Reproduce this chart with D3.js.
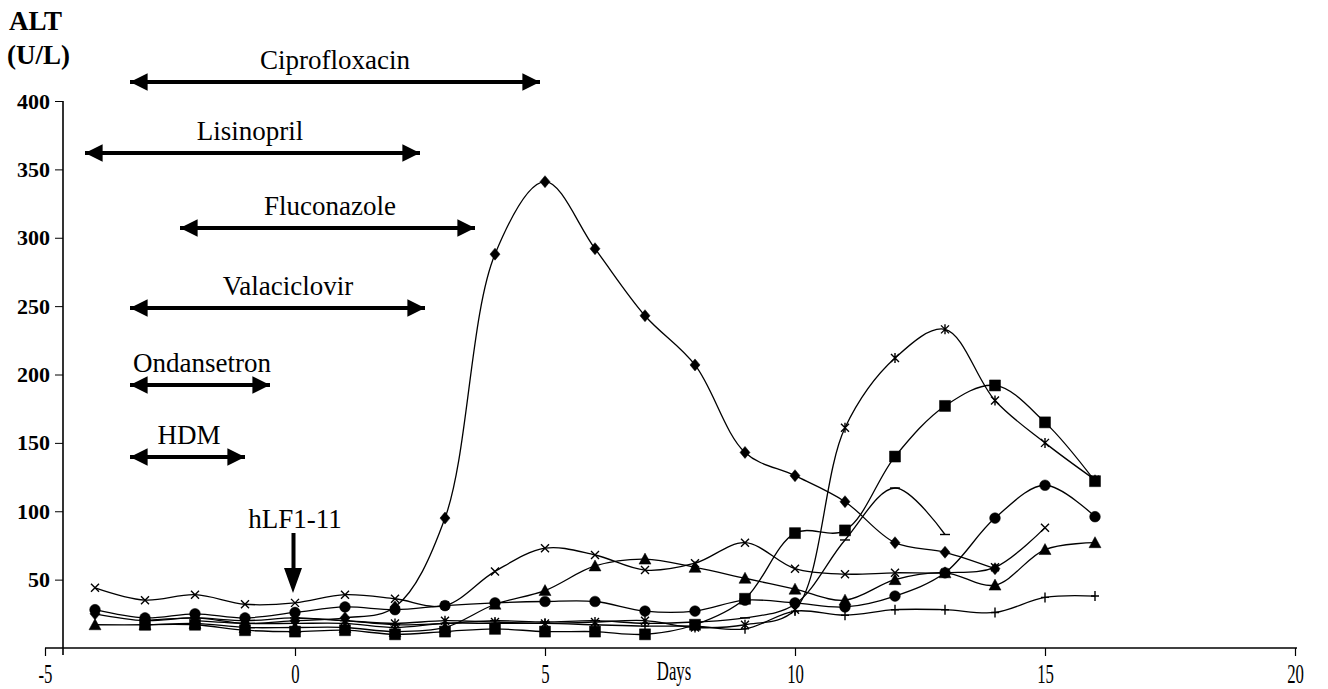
<!DOCTYPE html>
<html>
<head>
<meta charset="utf-8">
<script src="https://cdn.jsdelivr.net/npm/d3@7"></script>
<style>
  body { margin: 0; background: #fff; }
  svg text { font-family: "Liberation Serif", "DejaVu Serif", serif; fill: #000; }
</style>
</head>
<body>
<div id="chart"></div>
<script>
// ALT values per day, one array per patient marker (null = no sample)
var days = [-4, -3, -2, -1, 0, 1, 2, 3, 4, 5, 6, 7, 8, 9, 10, 11, 12, 13, 14, 15, 16];
var diamondALT  = [25, 20, 22, 18, 20, 22, 30, 95, 288, 341, 292, 243, 207, 143, 126, 107, 77, 70, 58, null, null];
var squareALT   = [null, 17, 17, 13, 12, 13, 10, 12, 14, 12, 12, 10, 17, 36, 84, 86, 140, 177, 192, 165, 122];
var triangleALT = [17, 17, 18, 15, 15, 15, 12, 15, 32, 42, 60, 65, 59, 51, 43, 35, 50, 55, 46, 72, 77];
var crossALT    = [44, 35, 39, 32, 33, 39, 36, 31, 56, 73, 68, 57, 62, 77, 58, 54, 55, 55, 59, 88, null];
var starALT     = [null, 20, 22, 20, 22, 20, 18, 20, 19, 18, 19, 20, 15, 17, 28, 161, 212, 233, 181, 150, 123];
var circleALT   = [28, 22, 25, 22, 26, 30, 28, 31, 33, 34, 34, 27, 27, 35, 33, 30, 38, 55, 95, 119, 96];
var plusALT     = [null, null, 20, 18, 18, 18, 15, 18, 18, 18, 17, 16, 16, 14, 27, 24, 28, 28, 26, 37, 38];
var dashALT     = [null, null, null, null, 22, 20, 17, 18, 20, 19, 20, 18, 19, 22, 32, 79, 117, 83, null, null, null];

// drug courses (start day, end day)
var drugs      = ["Ciprofloxacin", "Lisinopril", "Fluconazole", "Valaciclovir", "Ondansetron", "HDM"];
var drugStart  = [-3.3, -4.2, -2.3, -3.3, -3.3, -3.3];
var drugEnd    = [4.9, 2.5, 3.6, 2.6, -0.5, -1.0];

var xTicks = [-5, 0, 5, 10, 15, 20];
var yTicks = [50, 100, 150, 200, 250, 300, 350, 400];

// layout
var width = 1328, height = 689;
var drugRowY = [82, 153, 228, 308, 385, 457];
var drugLabelX = [335, 250, 330, 288, 202, 189];
var serif = "'Liberation Serif', 'DejaVu Serif', serif";

var x = d3.scaleLinear().domain([-5, 20]).range([45, 1295]);
var y = d3.scaleLinear().domain([0, 400]).range([648, 101]);

var svg = d3.select("#chart").append("svg")
    .attr("width", width)
    .attr("height", height);

// axes
var xAxis = svg.append("g")
    .attr("transform", "translate(0,648)")
    .call(d3.axisBottom(x).tickValues(xTicks).tickSize(8).tickPadding(8).tickFormat(String));
xAxis.attr("font-family", serif);
xAxis.select(".domain").attr("stroke-width", 1.6).attr("d", "M45,0H1297");
xAxis.selectAll(".tick line").attr("stroke-width", 1.2);
xAxis.selectAll(".tick text")
    .style("font-family", serif)
    .style("font-size", "27px")
    .attr("transform", "scale(0.62,1)");

svg.append("text")
    .attr("transform", "translate(674,680) scale(0.62,1)")
    .attr("text-anchor", "middle")
    .style("font-size", "27px")
    .text("Days");

var yAxis = svg.append("g")
    .attr("transform", "translate(63,0)")
    .call(d3.axisLeft(y).tickValues(yTicks).tickSize(8).tickPadding(6));
yAxis.attr("font-family", serif);
yAxis.select(".domain").attr("stroke-width", 1.6).attr("d", "M0,101V655");
yAxis.selectAll(".tick text")
    .style("font-family", serif)
    .style("font-size", "22px")
    .style("font-weight", "bold")
    .attr("x", -13);

svg.append("text").attr("x", 9).attr("y", 30)
    .style("font-size", "27px").style("font-weight", "bold").text("ALT");
svg.append("text").attr("x", 7).attr("y", 64)
    .style("font-size", "27px").style("font-weight", "bold").text("(U/L)");

// double headed drug arrows
var defs = svg.append("defs");
defs.append("marker")
    .attr("id", "head")
    .attr("viewBox", "0 0 10 10")
    .attr("refX", 10).attr("refY", 5)
    .attr("markerWidth", 6.5).attr("markerHeight", 4.4)
    .attr("markerUnits", "strokeWidth")
    .attr("orient", "auto-start-reverse")
    .append("path").attr("d", "M0,0L10,5L0,10Z").attr("fill", "#000");

drugs.forEach(function(name, i) {
    svg.append("line")
        .attr("x1", x(drugStart[i])).attr("x2", x(drugEnd[i]))
        .attr("y1", drugRowY[i]).attr("y2", drugRowY[i])
        .attr("stroke", "#000").attr("stroke-width", 4)
        .attr("marker-start", "url(#head)")
        .attr("marker-end", "url(#head)");
    svg.append("text")
        .attr("x", drugLabelX[i]).attr("y", drugRowY[i] - 13)
        .attr("text-anchor", "middle")
        .style("font-size", "27px")
        .text(name);
});

// hLF1-11 dose arrow
svg.append("text").attr("x", x(0)).attr("y", 528)
    .attr("text-anchor", "middle").style("font-size", "27px").text("hLF1-11");
svg.append("path")
    .attr("d", "M" + (x(0) - 3.5) + ",533V568H" + (x(0) - 11) + "L" + (x(0) - 2) + ",593L" + (x(0) + 7) + ",568H" + (x(0) + 0.5) + "V533Z")
    .attr("fill", "#000");

// series
var series = [
    { values: diamondALT, marker: "diamond" },
    { values: squareALT, marker: "square" },
    { values: triangleALT, marker: "triangle" },
    { values: crossALT, marker: "cross" },
    { values: starALT, marker: "star" },
    { values: circleALT, marker: "circle" },
    { values: plusALT, marker: "plus" },
    { values: dashALT, marker: "dash" }
];

var line = d3.line()
    .defined(function(d) { return d.v != null; })
    .x(function(d) { return x(d.day); })
    .y(function(d) { return y(d.v); })
    .curve(d3.curveCatmullRom.alpha(0.5));

function markerPath(type) {
    switch (type) {
        case "diamond": return "M0,-6L5,0L0,6L-5,0Z";
        case "square": return "M-5.5,-5.5H5.5V5.5H-5.5Z";
        case "triangle": return "M0,-6L6,5H-6Z";
        case "circle": return d3.symbol(d3.symbolCircle, 90)();
        case "cross": return "M-4,-4L4,4M-4,4L4,-4";
        case "star": return "M-4,-4L4,4M-4,4L4,-4M0,-5V5";
        case "plus": return "M-4,0H4M0,-5V5";
        case "dash": return "M-5,0H5";
    }
}

series.forEach(function(s) {
    var pts = days.map(function(d, i) { return { day: d, v: s.values[i] }; });
    svg.append("path")
        .datum(pts.filter(function(p) { return p.v != null; }))
        .attr("d", line)
        .attr("fill", "none")
        .attr("stroke", "#000")
        .attr("stroke-width", 1.3);
    var filled = ["diamond", "square", "triangle", "circle"].indexOf(s.marker) >= 0;
    svg.append("g").selectAll("path")
        .data(pts.filter(function(p) { return p.v != null; }))
        .enter().append("path")
        .attr("transform", function(d) { return "translate(" + x(d.day) + "," + y(d.v) + ")"; })
        .attr("d", markerPath(s.marker))
        .attr("fill", filled ? "#000" : "none")
        .attr("stroke", "#000")
        .attr("stroke-width", filled ? 0.5 : 1.4);
});
</script>
</body>
</html>
